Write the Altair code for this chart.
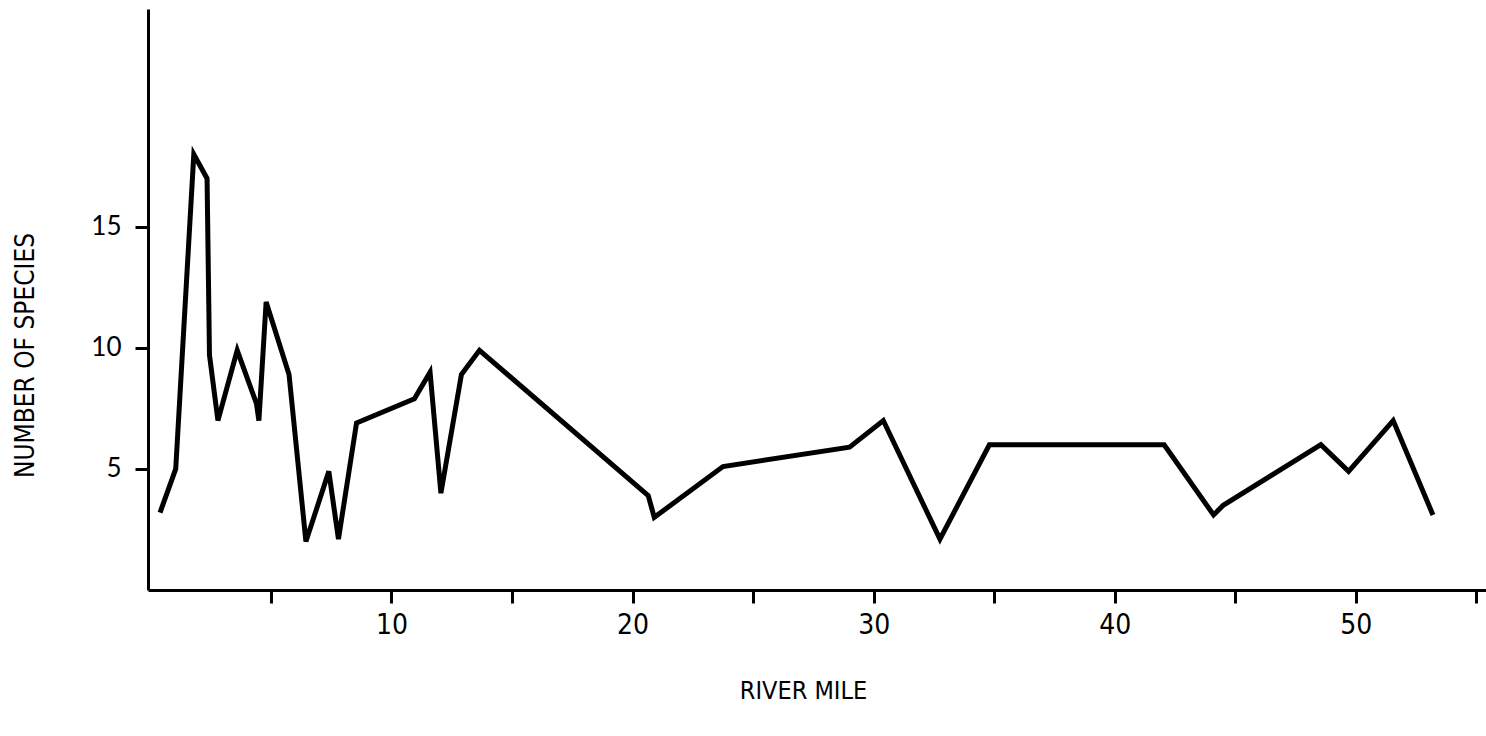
import altair as alt
import pandas as pd

# River mile positions and number of species
river_mile = [0.4, 1.05, 1.8, 2.35, 2.45, 2.8, 3.6, 4.4, 4.5, 4.8, 5.75, 6.45, 7.4, 7.8,
              8.55, 10.95, 11.6, 12.05, 12.9, 13.65, 20.65, 20.9, 23.75, 29.0, 30.4,
              32.75, 34.8, 42.05, 44.1, 44.5, 48.55, 49.7, 51.55, 53.2]
species = [3.2, 5.0, 18.0, 17.0, 9.7, 7.0, 9.9, 7.7, 7.0, 11.9, 8.9, 2.0, 4.9, 2.1,
           6.9, 7.9, 9.0, 4.0, 8.9, 9.9, 3.9, 3.0, 5.1, 5.9, 7.0,
           2.1, 6.0, 6.0, 3.1, 3.5, 6.0, 4.9, 7.0, 3.1]

x_ticks = [5, 10, 15, 20, 25, 30, 35, 40, 45, 50, 55]
y_ticks = [5, 10, 15]

df = pd.DataFrame({"mile": river_mile, "species": species, "order": list(range(len(river_mile)))})

narrow = "Liberation Sans Narrow, DejaVu Sans Condensed, Roboto Condensed, DejaVu Sans, sans-serif"

chart = alt.Chart(df).mark_line(color="black", strokeWidth=5, strokeJoin="miter").encode(
    x=alt.X("mile:Q",
            scale=alt.Scale(domain=[-0.1, 55.4], nice=False, zero=False),
            axis=alt.Axis(values=x_ticks, title="RIVER MILE",
                          labelExpr="datum.value % 10 == 0 ? datum.label : ''",
                          grid=False, domainColor="black", domainWidth=3,
                          tickColor="black", tickWidth=3, tickSize=13,
                          labelFont=narrow, labelFontSize=28, labelColor="black",
                          labelPadding=8,
                          titleFont=narrow, titleFontSize=25, titleFontWeight="normal",
                          titleColor="black", titleX=655, titleY=100,
                          titleBaseline="middle", titleAlign="center")),
    y=alt.Y("species:Q",
            scale=alt.Scale(domain=[0, 24], nice=False),
            axis=alt.Axis(values=y_ticks, title="NUMBER OF SPECIES",
                          grid=False, domainColor="black", domainWidth=3,
                          tickColor="black", tickWidth=3, tickSize=13,
                          labelFont="Lato, DejaVu Sans, sans-serif", labelFontSize=26,
                          labelColor="black", labelPadding=14,
                          titleFont=narrow, titleFontSize=26, titleFontWeight="normal",
                          titleColor="black", titleX=-123, titleY=346,
                          titleBaseline="middle", titleAlign="center", titleAngle=270)),
    order="order:Q",
).properties(
    width=1338, height=581,
    background="white",
    autosize=alt.AutoSizeParams(type="none"),
    padding={"left": 148, "top": 9, "right": 0, "bottom": 146},
).configure_view(strokeWidth=0, stroke="transparent")

chart.save("out.html", embed_options={"renderer": "svg", "actions": False})
